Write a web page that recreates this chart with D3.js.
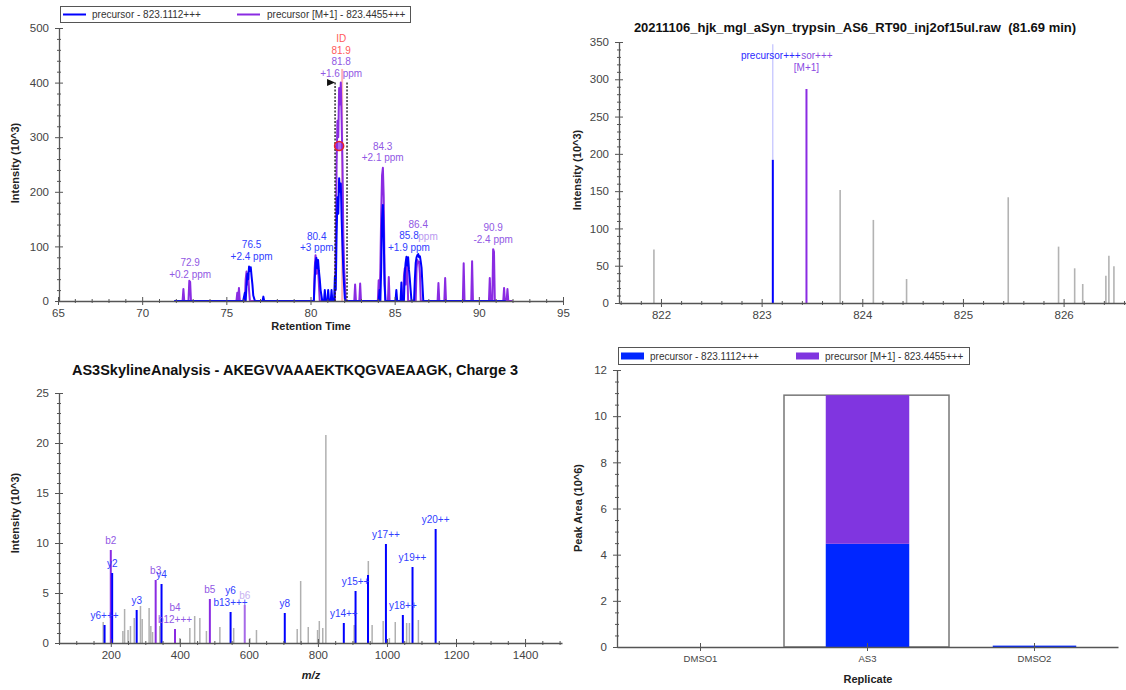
<!DOCTYPE html>
<html><head><meta charset="utf-8">
<script src="https://cdn.jsdelivr.net/npm/d3@7"></script>
<style>
body{margin:0;background:#fff}
svg{display:block}
</style></head><body>
<svg id="c" width="1126" height="690"></svg>
<script>
// ---------------- DATA ----------------
// Panel 1: chromatogram (retention time, intensity 10^3)
const chromMajorX = [65,70,75,80,85,90,95];
const chromMajorY = [0,100,200,300,400,500];
const precursorTrace = [[71.9,0],[76.0,0],[76.1,15],[76.15,0],[76.2,30],[76.25,50],[76.3,40],[76.35,63],[76.4,55],[76.45,62],[76.5,45],[76.55,30],[76.6,10],[76.7,0],[77.15,0],[77.2,8],[77.25,0],[80.2,0],[80.25,40],[80.3,70],[80.35,79],[80.4,60],[80.45,75],[80.5,55],[80.55,40],[80.6,20],[80.7,0],[80.8,0],[80.85,20],[80.9,0],[81.0,0],[81.05,20],[81.1,0],[81.2,0],[81.25,20],[81.3,0],[81.4,0],[81.45,45],[81.5,20],[81.55,120],[81.6,190],[81.65,160],[81.7,225],[81.75,200],[81.8,215],[81.85,150],[81.9,100],[81.95,55],[82.0,25],[82.05,0],[84.05,0],[84.1,20],[84.15,0],[84.2,60],[84.25,150],[84.3,176],[84.35,120],[84.4,30],[84.45,0],[85.05,0],[85.1,20],[85.15,0],[85.35,0],[85.4,34],[85.45,0],[85.55,0],[85.6,50],[85.65,70],[85.7,81],[85.75,65],[85.8,80],[85.85,57],[85.9,40],[85.95,20],[86.0,0],[86.15,0],[86.2,40],[86.25,70],[86.3,80],[86.35,84],[86.4,86],[86.45,80],[86.5,82],[86.55,72],[86.6,60],[86.65,30],[86.7,0],[91.6,0]];
const isotopeTrace = [[72.0,0],[72.4,0],[72.45,22],[72.5,0],[72.75,0],[72.8,37],[72.85,35],[72.9,0],[75.6,0],[75.65,15],[75.7,0],[75.75,24],[75.8,0],[76.1,0],[76.15,40],[76.2,54],[76.25,30],[76.3,50],[76.35,20],[76.4,0],[80.2,0],[80.25,60],[80.3,84],[80.35,50],[80.4,75],[80.45,60],[80.5,30],[80.55,0],[81.45,0],[81.5,100],[81.55,250],[81.6,330],[81.65,300],[81.7,390],[81.75,360],[81.8,400],[81.85,330],[81.9,250],[81.95,120],[82.0,60],[82.05,29],[82.1,0],[82.6,0],[82.65,30],[82.7,0],[82.9,0],[82.95,32],[83.0,0],[84.0,0],[84.05,38],[84.1,0],[84.15,60],[84.2,160],[84.25,230],[84.3,244],[84.35,190],[84.4,50],[84.45,0],[84.6,0],[84.65,44],[84.7,0],[85.5,0],[85.55,45],[85.6,60],[85.65,30],[85.7,75],[85.75,60],[85.8,0],[86.25,0],[86.3,60],[86.35,75],[86.4,70],[86.45,72],[86.5,50],[86.55,0],[87.55,0],[87.6,33],[87.65,0],[87.95,0],[88.0,42],[88.05,0],[89.05,0],[89.1,69],[89.15,0],[89.55,0],[89.6,73],[89.65,0],[90.6,0],[90.65,42],[90.7,0],[90.8,0],[90.85,95],[90.9,90],[90.95,0],[91.45,0],[91.5,24],[91.55,0],[91.65,0],[91.7,22],[91.75,0],[92.0,0]];
const chromLabels = [
  {t:72.85, v:31,  lines:[["72.9","iso"],["+0.2 ppm","iso"]]},
  {t:76.5,  v:64,  lines:[["76.5","pre"],["+2.4 ppm","pre"]]},
  {t:80.37, v:79,  lines:[["80.4","pre"],["+3 ppm","pre"]]},
  {t:81.82, v:399, lines:[["ID","id"],["81.9","id"],["81.8","iso"],["+1.6 ppm","iso"]]},
  {t:84.29, v:244, lines:[["84.3","iso"],["+2.1 ppm","iso"]]},
  {t:86.4,  v:121, lines:[["86.4","iso"]]},
  {t:86.98, v:100, lines:[["ppm","isoFaint"]]},
  {t:85.85, v:80,  lines:[["85.8","pre"],["+1.9 ppm","pre"]]},
  {t:90.85, v:95,  lines:[["90.9","iso"],["-2.4 ppm","iso"]]}
];
const peakBounds = [81.46, 82.17];   // integration boundaries (min)
const peakTop = 400;
const idTime = 81.88;
const bestPoint = [81.7, 284];

// Panel 2: MS1 spectrum (m/z, intensity 10^3)
const ms1MajorX = [822,823,824,825,826];
const ms1MajorY = [0,50,100,150,200,250,300,350];
const ms1GrayMz  = [821.93,823.78,824.11,824.44,825.45,825.95,826.11,826.19,826.42,826.45,826.50];
const ms1GrayInt = [71.6,151.7,111.4,32.2,141.8,75.6,46.5,25.5,36.7,63.5,49.2];
const ms1PrecursorMz = 823.1112, ms1PrecursorInt = 192;
const ms1IsotopeMz = 823.4455, ms1IsotopeInt = 287;
const ms1Title = "20211106_hjk_mgl_aSyn_trypsin_AS6_RT90_inj2of15ul.raw  (81.69 min)";

// Panel 3: MS/MS spectrum (m/z, intensity 10^3)
const ms2MajorX = [200,400,600,800,1000,1200,1400];
const ms2MajorY = [0,5,10,15,20,25];
const ms2GrayMz  = [178,235,240,250,257,268,286,291,311,316,321,342,345,400,429,443,458,477,516,556,603,622,740,750,772,799,804,814,823,905,946,957,989,1007,1024,1057,1065,1091];
const ms2GrayInt = [2.1,1.2,3.4,1.3,1.7,2.5,3.7,2.4,3.5,1.7,1.1,1.7,2.4,0.5,1.5,2.7,2.5,1.2,1.6,1.5,0.5,1.3,1.4,6.2,1.6,1.3,2.2,1.5,20.8,1.8,8.2,1.8,2.2,0.5,2.1,2.0,2.0,2.3];
const ms2IonMz   = [200,204,182,275,330,347,386,487,547,588,704,875,909,945,997,1046,1074,1141];
const ms2IonInt  = [9.3,7.0,1.8,3.3,6.3,5.9,1.4,4.4,3.1,3.8,3.0,2.0,5.2,6.8,9.9,2.8,7.6,11.4];
const ms2IonType = ["b","y","y","y","b","y","b","b","y","bx","y","y","y","y","y","y","y","y"];
const ms2IonLabels = [["b2"],["y2"],["y6+++"],["y3"],["b3"],["y4"],["b4","b12+++"],["b5"],["y6","b13+++"],["b6"],["y8"],["y14++"],["y15++"],[],["y17++"],["y18++"],["y19++"],["y20++"]];
const ms2Title = "AS3SkylineAnalysis - AKEGVVAAAEKTKQGVAEAAGK, Charge 3";

// Panel 4: peak areas (10^6)
const replicates = ["DMSO1","AS3","DMSO2"];
const precursorArea = [0, 4.47, 0.06];
const isotopeArea = [0, 6.44, 0];
const selectedReplicate = "AS3";
const areaMajorY = [0,2,4,6,8,10,12];

const legendNames = ["precursor - 823.1112+++","precursor [M+1] - 823.4455+++"];

// ---------------- STYLE ----------------
const FONT = '"Liberation Sans", Arial, Helvetica, sans-serif';
const BLUE = "#0000ff", PURPLE = "#8a2be2";
const TXT = {pre:"#3140ff", iso:"#9158e4", isoFaint:"#b99af0", id:"#ff5a5a", b:"#9158e4", y:"#3140ff", bx:"#c7b2f2"};
const LINE = {b:PURPLE, y:BLUE, bx:"#a66ae8"};
const AXC = "#555";
const TICKFS = 11.5;

const svg = d3.select("#c").style("font-family", FONT);

function range(a,b,s){const r=[];for(let v=a;v<=b+1e-9;v+=s)r.push(+v.toFixed(6));return r;}
function minorOf(all, major){return all.filter(v=>!major.some(m=>Math.abs(m-v)<1e-6));}

function yAxis(scale, x, major, minor){
  const g = svg.append("g").attr("transform",`translate(${x},0)`);
  g.append("g").call(d3.axisLeft(scale).tickValues(major).tickSize(4).tickSizeOuter(0).tickPadding(6).tickFormat(d3.format("d")))
    .attr("font-size",TICKFS).attr("font-family",FONT).attr("color",AXC)
    .call(s=>s.selectAll("text").attr("fill","#444"))
    .call(s=>s.select(".domain").attr("stroke-width",1.3));
  [[d3.axisRight,major,4],[d3.axisLeft,minor,2],[d3.axisRight,minor,2]].forEach(([f,v,sz])=>{
    g.append("g").call(f(scale).tickValues(v).tickSize(sz).tickFormat("")).attr("color",AXC)
      .call(s=>s.select(".domain").remove());
  });
}
function xAxis(scale, y, major, minor, fmt, fs){
  const g = svg.append("g").attr("transform",`translate(0,${y})`);
  g.append("g").call(d3.axisBottom(scale).tickValues(major).tickSize(4).tickSizeOuter(0).tickPadding(4).tickFormat(fmt||d3.format("d")))
    .attr("font-size",fs||TICKFS).attr("font-family",FONT).attr("color",AXC)
    .call(s=>s.selectAll("text").attr("fill","#444"))
    .call(s=>s.select(".domain").attr("stroke-width",1.3));
  [[d3.axisTop,major,4],[d3.axisBottom,minor,2],[d3.axisTop,minor,2]].forEach(([f,v,sz])=>{
    if(!v.length) return;
    g.append("g").call(f(scale).tickValues(v).tickSize(sz).tickFormat("")).attr("color",AXC)
      .call(s=>s.select(".domain").remove());
  });
}
function vTitle(x,y,text){
  svg.append("text").attr("transform",`translate(${x},${y}) rotate(-90)`).attr("text-anchor","middle")
    .attr("dominant-baseline","central").attr("font-size",11).attr("font-weight","bold").attr("fill","#222").text(text);
}
function hTitle(x,y,text,italic){
  svg.append("text").attr("x",x).attr("y",y).attr("text-anchor","middle").attr("dominant-baseline","central")
    .attr("font-size",11).attr("font-weight","bold").attr("font-style",italic?"italic":"normal").attr("fill","#222").text(text);
}

// ================= PANEL 1 =================
{
  const x = d3.scaleLinear().domain([65,95]).range([58,563]);
  const y = d3.scaleLinear().domain([0,500]).range([301,28]);
  const g = svg.append("g");
  const line = d3.line().x(d=>x(d[0])).y(d=>y(d[1]));
  g.append("line").attr("x1",x(idTime)).attr("x2",x(idTime)).attr("y1",y(425)).attr("y2",y(0))
    .attr("stroke","rgba(255,90,90,0.45)").attr("stroke-width",2);
  g.append("path").datum(isotopeTrace).attr("d",line).attr("fill","none").attr("stroke",PURPLE).attr("stroke-width",2).attr("stroke-linejoin","round");
  g.append("path").datum(precursorTrace).attr("d",line).attr("fill","none").attr("stroke",BLUE).attr("stroke-width",2).attr("stroke-linejoin","round");
  peakBounds.forEach(t=>{
    g.append("line").attr("x1",x(t)).attr("x2",x(t)).attr("y1",y(peakTop)).attr("y2",y(0))
      .attr("stroke","#222").attr("stroke-width",1.4).attr("stroke-dasharray","2,1.5");
  });
  const fx = x(peakBounds[0]), fy = y(peakTop);
  g.append("path").attr("d",`M${fx},${fy} L${fx-8},${fy-3.5} L${fx-8},${fy+3.5} Z`).attr("fill","#111");
  g.append("circle").attr("cx",x(bestPoint[0])).attr("cy",y(bestPoint[1])).attr("r",4.5)
    .attr("fill","rgba(138,43,226,0.7)").attr("stroke","#e8202a").attr("stroke-width",1.6);
  chromLabels.forEach(L=>{
    const n = L.lines.length;
    L.lines.forEach((ln,i)=>{
      g.append("text").attr("x",x(L.t)).attr("y",y(L.v)-10-(n-1-i)*11.5)
        .attr("text-anchor","middle").attr("dominant-baseline","central").attr("font-size",10)
        .attr("fill",TXT[ln[1]]).text(ln[0]);
    });
  });
  yAxis(y, 59, chromMajorY, minorOf(range(0,500,20), chromMajorY));
  xAxis(x, 301, chromMajorX, minorOf(range(65,95,1), chromMajorX));
  vTitle(15,163,"Intensity (10^3)");
  hTitle(311,326,"Retention Time");
  const lg = svg.append("g");
  lg.append("rect").attr("x",60.5).attr("y",6.5).attr("width",350).attr("height",16).attr("fill","#fff").attr("stroke","#555");
  [[63,92,BLUE],[237,267,PURPLE]].forEach((p,i)=>{
    lg.append("line").attr("x1",p[0]).attr("x2",p[0]+23).attr("y1",14.5).attr("y2",14.5).attr("stroke",p[2]).attr("stroke-width",2);
    lg.append("text").attr("x",p[1]).attr("y",14.5).attr("dominant-baseline","central").attr("font-size",10).attr("fill","#333").text(legendNames[i]);
  });
}

// ================= PANEL 2 =================
{
  const x = d3.scaleLinear().domain([821.583,826.62]).range([619,1126]);
  const y = d3.scaleLinear().domain([0,350]).range([303,42]);
  const g = svg.append("g");
  ms1GrayMz.forEach((m,i)=>{
    g.append("line").attr("x1",x(m)).attr("x2",x(m)).attr("y1",y(0)).attr("y2",y(ms1GrayInt[i]))
      .attr("stroke","#b3b3b3").attr("stroke-width",1.6);
  });
  g.append("line").attr("x1",x(ms1PrecursorMz)).attr("x2",x(ms1PrecursorMz)).attr("y1",y(ms1PrecursorInt)).attr("y2",y(347))
    .attr("stroke","rgba(90,90,255,0.45)").attr("stroke-width",1);
  g.append("line").attr("x1",x(ms1PrecursorMz)).attr("x2",x(ms1PrecursorMz)).attr("y1",y(0)).attr("y2",y(ms1PrecursorInt))
    .attr("stroke",BLUE).attr("stroke-width",2);
  g.append("line").attr("x1",x(ms1IsotopeMz)).attr("x2",x(ms1IsotopeMz)).attr("y1",y(0)).attr("y2",y(ms1IsotopeInt))
    .attr("stroke",PURPLE).attr("stroke-width",2);
  const bl = g.append("text").attr("x",x(ms1PrecursorMz)-2).attr("y",55).attr("text-anchor","middle").attr("dominant-baseline","central")
    .attr("font-size",10).attr("fill","#2a2aff").text("precursor+++");
  const bw = bl.node().getComputedTextLength();
  g.append("text").attr("x",x(ms1PrecursorMz)-2+bw/2+0.5).attr("y",55).attr("dominant-baseline","central")
    .attr("font-size",10).attr("fill","#8a4be2").text("sor+++");
  g.append("text").attr("x",x(ms1IsotopeMz)).attr("y",67).attr("text-anchor","middle").attr("dominant-baseline","central")
    .attr("font-size",10).attr("fill","#8a4be2").text("[M+1]");
  yAxis(y, 619, ms1MajorY, minorOf(range(0,350,10), ms1MajorY));
  xAxis(x, 303, ms1MajorX, minorOf(range(821.6,826.6,0.2), ms1MajorX));
  vTitle(577,170,"Intensity (10^3)");
  svg.append("text").attr("x",855).attr("y",27).attr("text-anchor","middle").attr("dominant-baseline","central")
    .attr("font-size",13).attr("font-weight","bold").attr("fill","#111").style("white-space","pre").text(ms1Title);
}

// ================= PANEL 3 =================
{
  const x = d3.scaleLinear().domain([50,1507]).range([59,562]);
  const y = d3.scaleLinear().domain([0,25]).range([643,393]);
  const g = svg.append("g");
  ms2GrayMz.forEach((m,i)=>{
    g.append("line").attr("x1",x(m)).attr("x2",x(m)).attr("y1",y(0)).attr("y2",y(ms2GrayInt[i]))
      .attr("stroke","#b0b0b0").attr("stroke-width",1.5);
  });
  ms2IonMz.forEach((m,i)=>{
    const t = ms2IonType[i];
    g.append("line").attr("x1",x(m)).attr("x2",x(m)).attr("y1",y(0)).attr("y2",y(ms2IonInt[i]))
      .attr("stroke",LINE[t]).attr("stroke-width",2);
  });
  ms2IonMz.forEach((m,i)=>{
    const labs = ms2IonLabels[i], n = labs.length, t = ms2IonType[i];
    labs.forEach((lab,j)=>{
      g.append("text").attr("x",x(m)).attr("y",y(ms2IonInt[i])-10-(n-1-j)*11.5)
        .attr("text-anchor","middle").attr("dominant-baseline","central").attr("font-size",10)
        .attr("fill",TXT[t]).text(lab);
    });
  });
  yAxis(y, 59, ms2MajorY, minorOf(range(0,25,1), ms2MajorY));
  xAxis(x, 643, ms2MajorX, minorOf(range(50,1500,50), ms2MajorX));
  vTitle(15,513,"Intensity (10^3)");
  hTitle(311,675,"m/z",true);
  svg.append("text").attr("x",295).attr("y",370).attr("text-anchor","middle").attr("dominant-baseline","central")
    .attr("font-size",14.5).attr("font-weight","bold").attr("fill","#111").text(ms2Title);
}

// ================= PANEL 4 =================
{
  const x = d3.scaleBand().domain(replicates).range([617,1118]).padding(0);
  const y = d3.scaleLinear().domain([0,12]).range([647,370]);
  const g = svg.append("g");
  const bw = x.bandwidth()/2;
  const si = replicates.indexOf(selectedReplicate);
  g.append("rect").attr("x",x(selectedReplicate)).attr("width",x.bandwidth()-2)
    .attr("y",y(precursorArea[si]+isotopeArea[si])).attr("height",y(0)-y(precursorArea[si]+isotopeArea[si]))
    .attr("fill","#fff").attr("stroke","#777").attr("stroke-width",1.5);
  replicates.forEach((r,i)=>{
    const cx = x(r)+x.bandwidth()/2;
    if(precursorArea[i]>0)
      g.append("rect").attr("x",cx-bw/2).attr("width",bw).attr("y",y(precursorArea[i])).attr("height",y(0)-y(precursorArea[i])).attr("fill","#0026ff");
    if(isotopeArea[i]>0)
      g.append("rect").attr("x",cx-bw/2).attr("width",bw).attr("y",y(precursorArea[i]+isotopeArea[i])).attr("height",y(precursorArea[i])-y(precursorArea[i]+isotopeArea[i])).attr("fill","#8035e0");
  });
  yAxis(y, 617, areaMajorY, minorOf(range(0,12,0.5), areaMajorY));
  xAxis(x, 647, replicates, [], d=>d, 9.5);
  vTitle(578,508,"Peak Area (10^6)");
  hTitle(868,679,"Replicate");
  const lg = svg.append("g");
  lg.append("rect").attr("x",618.5).attr("y",347.5).attr("width",351).attr("height",17).attr("fill","#fff").attr("stroke","#555");
  [[621,650,"#0026ff"],[796,825,"#8035e0"]].forEach((p,i)=>{
    lg.append("rect").attr("x",p[0]).attr("y",352.5).attr("width",23).attr("height",7).attr("fill",p[2]);
    lg.append("text").attr("x",p[1]).attr("y",356).attr("dominant-baseline","central").attr("font-size",10).attr("fill","#333").text(legendNames[i]);
  });
}
</script></body></html>
